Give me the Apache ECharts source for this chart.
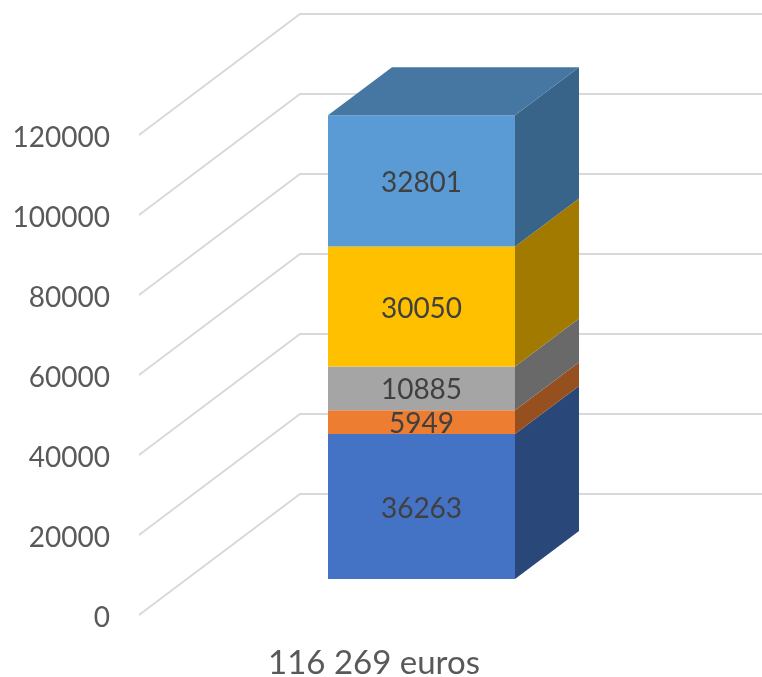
<!DOCTYPE html>
<html>
<head>
<meta charset="utf-8">
<style>
  html, body { margin: 0; padding: 0; background: #fff; }
  #chart { width: 762px; height: 677px; }
</style>
<script src="https://cdn.jsdelivr.net/npm/echarts@6/dist/echarts.min.js"></script>
</head>
<body>
<div id="chart"></div>
<script>
const categories = ['116 269 euros'];
const yTicks = [0, 20000, 40000, 60000, 80000, 100000, 120000];
const segmentValues = [36263, 5949, 10885, 30050, 32801];
const frontColors = ['#4472C4', '#ED7D31', '#A5A5A5', '#FFC000', '#5B9BD5'];
const sideColors = ['#2A4779', '#96501F', '#696969', '#A27A00', '#39648A'];
const topColor = '#4577A2';

// 3D 偏移量
const wallDx = 161, wallDy = -121;
const barDx = 51, barDy = -36;
const depthDx = 64, depthDy = -48;
const barWidth = 187;
const fontFamily = 'Lato, "Open Sans", sans-serif';
const fontSize = 28;

const chart = echarts.init(document.getElementById('chart'));

const polygon = (points, fill) => ({
    type: 'polygon',
    shape: { points: points },
    style: { fill: fill }
});

// 背景网格线：斜线 + 后墙水平线
const renderWall = (params, api) => {
    const p = api.coord([0, api.value(0)]);
    const left = params.coordSys.x;
    const y = p[1];
    return {
        type: 'polyline',
        shape: {
            points: [
                [left, y],
                [left + wallDx, y + wallDy],
                [api.getWidth(), y + wallDy]
            ]
        },
        style: { stroke: '#D9D9D9', lineWidth: 2, fill: 'none' },
        silent: true
    };
};

// 堆叠立方体的一段
const renderSegment = (index) => (params, api) => {
    const center = api.coord([api.value(0), 0])[0] + barDx;
    const x0 = center - barWidth / 2;
    const x1 = center + barWidth / 2;
    const yBase = api.coord([0, api.value(1)])[1] + barDy;
    const yTop = api.coord([0, api.value(2)])[1] + barDy;
    const children = [
        polygon([[x1, yBase], [x1 + depthDx, yBase + depthDy], [x1 + depthDx, yTop + depthDy], [x1, yTop]], sideColors[index]),
        polygon([[x0, yBase], [x1, yBase], [x1, yTop], [x0, yTop]], frontColors[index])
    ];
    if (index === segmentValues.length - 1) {
        children.push(polygon([[x0, yTop], [x1, yTop], [x1 + depthDx, yTop + depthDy], [x0 + depthDx, yTop + depthDy]], topColor));
    }
    children.push({
        type: 'text',
        z2: 10,
        style: {
            x: center,
            y: (yBase + yTop) / 2 + 2,
            text: String(segmentValues[index]),
            fill: '#404040',
            font: `${fontSize}px ${fontFamily}`,
            align: 'center',
            verticalAlign: 'middle'
        }
    });
    return { type: 'group', children: children };
};

let cumulative = 0;
const segmentSeries = segmentValues.map((v, i) => {
    const base = cumulative;
    cumulative += v;
    return {
        type: 'custom',
        z: 3 + i,
        renderItem: renderSegment(i),
        data: [[0, base, cumulative]],
        encode: { x: 0, y: [1, 2] }
    };
});

chart.setOption({
    animation: false,
    backgroundColor: '#fff',
    grid: { left: 139, right: 160, top: 135, bottom: 62, outerBoundsMode: 'none' },
    xAxis: {
        type: 'category',
        data: categories,
        axisLine: { show: false },
        axisTick: { show: false },
        axisLabel: { color: '#595959', fontSize: 33, fontFamily: fontFamily, margin: 32, padding: [0, 0, 0, 7] }
    },
    yAxis: {
        type: 'value',
        min: 0,
        max: 120000,
        interval: 20000,
        axisLine: { show: false },
        axisTick: { show: false },
        splitLine: { show: false },
        axisLabel: {
            margin: 29,
            formatter: (v) => `{tick|${v}}`,
            rich: {
                tick: {
                    color: '#595959',
                    fontSize: fontSize,
                    fontFamily: fontFamily,
                    padding: [5, 0, 0, 0]
                }
            }
        }
    },
    series: [
        {
            type: 'custom',
            z: 1,
            silent: true,
            renderItem: renderWall,
            data: yTicks.map((t) => [t]),
            encode: { y: 0 }
        },
        ...segmentSeries
    ]
});
</script>
</body>
</html>
